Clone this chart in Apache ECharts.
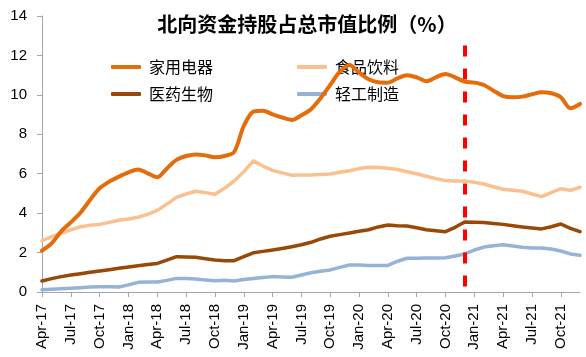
<!DOCTYPE html>
<html>
<head>
<meta charset="utf-8">
<script src="https://cdn.jsdelivr.net/npm/echarts@6/dist/echarts.min.js"></script>
<style>
html,body{margin:0;padding:0;background:#fff;}
#chart{width:586px;height:357px;}
</style>
</head>
<body>
<div id="chart"></div>
<script>
var categories = [
 'Apr-17','May-17','Jun-17','Jul-17','Aug-17','Sep-17','Oct-17','Nov-17','Dec-17',
 'Jan-18','Feb-18','Mar-18','Apr-18','May-18','Jun-18','Jul-18','Aug-18','Sep-18','Oct-18','Nov-18','Dec-18',
 'Jan-19','Feb-19','Mar-19','Apr-19','May-19','Jun-19','Jul-19','Aug-19','Sep-19','Oct-19','Nov-19','Dec-19',
 'Jan-20','Feb-20','Mar-20','Apr-20','May-20','Jun-20','Jul-20','Aug-20','Sep-20','Oct-20','Nov-20','Dec-20',
 'Jan-21','Feb-21','Mar-21','Apr-21','May-21','Jun-21','Jul-21','Aug-21','Sep-21','Oct-21','Nov-21','Dec-21'
];
var seriesNames = ['家用电器','食品饮料','医药生物','轻工制造'];
var homeAppliances = [
 2.1,2.47,3.08,3.53,4.02,4.67,5.26,5.6,5.85,
 6.07,6.22,6.02,5.82,6.27,6.70,6.90,6.98,6.93,6.83,6.90,7.1,
 8.42,9.15,9.2,9.01,8.85,8.73,8.96,9.27,9.83,10.5,11.18,11.52,
 11.13,10.79,10.64,10.62,10.84,11.0,10.89,10.69,10.89,11.06,10.89,10.67,
 10.62,10.5,10.21,9.94,9.88,9.91,10.03,10.13,10.08,9.88,9.32,9.54
];
var foodBeverage = [
 2.6,2.81,2.98,3.15,3.31,3.38,3.43,3.53,3.64,
 3.70,3.79,3.94,4.14,4.46,4.8,4.97,5.11,5.04,4.96,5.26,5.63,
 6.1,6.65,6.39,6.17,6.04,5.92,5.94,5.94,5.96,5.99,6.07,6.15,
 6.26,6.33,6.31,6.28,6.21,6.1,6.0,5.87,5.75,5.65,5.63,5.63,
 5.56,5.48,5.34,5.21,5.16,5.11,4.97,4.84,5.04,5.24,5.16,5.31
];
var pharma = [
 0.56,0.68,0.78,0.86,0.93,1.0,1.07,1.13,1.2,
 1.27,1.33,1.39,1.45,1.62,1.79,1.78,1.76,1.69,1.62,1.59,1.59,
 1.79,1.99,2.06,2.13,2.21,2.3,2.4,2.52,2.69,2.83,2.91,2.99,
 3.08,3.16,3.3,3.4,3.36,3.35,3.26,3.16,3.11,3.06,3.28,3.55,
 3.54,3.52,3.48,3.43,3.36,3.3,3.25,3.2,3.31,3.45,3.23,3.06
];
var lightIndustry = [
 0.12,0.14,0.17,0.19,0.22,0.25,0.27,0.27,0.25,
 0.36,0.49,0.51,0.51,0.59,0.69,0.68,0.66,0.61,0.57,0.59,0.56,
 0.63,0.69,0.73,0.78,0.76,0.75,0.86,0.98,1.05,1.12,1.25,1.37,
 1.37,1.35,1.35,1.35,1.56,1.71,1.71,1.72,1.72,1.74,1.83,1.93,
 2.13,2.28,2.35,2.4,2.33,2.27,2.23,2.23,2.18,2.08,1.93,1.86
];
var yTicks = {min: 0, max: 14, interval: 2};
var markerCategory = 'Dec-20';
var markerTop = 12.5;

var chart = echarts.init(document.getElementById('chart'), null, {renderer: 'canvas'});
var latin = "'Liberation Sans', Arial, sans-serif";
var cjk = "'Noto Sans CJK SC', 'Liberation Sans', sans-serif";
var colors = ['#E46C0A', '#FAC090', '#984807', '#95B3D7'];

function lineSeries(name, data, color, width, smooth, z) {
  return {
    name: name, type: 'line', data: data, symbol: 'none',
    smooth: smooth, z: z,
    lineStyle: {color: color, width: width, cap: 'round', join: 'round'},
    itemStyle: {color: color}
  };
}

var legendCommon = {
  left: 106, itemWidth: 30, itemHeight: 4, itemGap: 84, icon: 'roundRect',
  textStyle: {fontFamily: cjk, fontSize: 16, color: '#000', padding: [0, 0, 0, 3]}
};

var option = {
  backgroundColor: '#fff',
  animation: false,
  title: {
    text: '北向资金持股占总市值比例（%）',
    left: 302, textAlign: 'center', top: 9,
    textStyle: {fontFamily: cjk, fontSize: 20, fontWeight: 'bold', color: '#000'}
  },
  legend: [
    Object.assign({}, legendCommon, {top: 54, data: [seriesNames[0], seriesNames[1]]}),
    Object.assign({}, legendCommon, {top: 81, data: [seriesNames[2], seriesNames[3]]})
  ],
  grid: {left: 42, right: 6, top: 16, bottom: 65, containLabel: false, outerBoundsMode: 'none'},
  xAxis: {
    type: 'category', data: categories, boundaryGap: false,
    axisLine: {lineStyle: {color: '#A6A6A6', width: 1}},
    axisTick: {show: true, interval: 2, length: 5, inside: false, lineStyle: {color: '#A6A6A6'}},
    axisLabel: {interval: 2, rotate: 90, margin: 12, fontFamily: latin, fontSize: 15, color: '#000'},
    splitLine: {show: false}
  },
  yAxis: {
    type: 'value', min: yTicks.min, max: yTicks.max, interval: yTicks.interval,
    axisLine: {show: true, lineStyle: {color: '#A6A6A6', width: 1}},
    axisTick: {show: true, length: 5, lineStyle: {color: '#A6A6A6'}},
    axisLabel: {margin: 15, fontFamily: latin, fontSize: 15, color: '#000'},
    splitLine: {show: false}
  },
  series: [
    Object.assign(lineSeries(seriesNames[0], homeAppliances, colors[0], 4, 0.3, 5), {
      markLine: {
        silent: true, symbol: ['none', 'none'], label: {show: false},
        lineStyle: {color: '#FF0000', width: 4, type: [11, 12]},
        data: [[{coord: [markerCategory, markerTop]}, {coord: [markerCategory, 0]}]]
      }
    }),
    lineSeries(seriesNames[1], foodBeverage, colors[1], 3.5, false, 3),
    lineSeries(seriesNames[2], pharma, colors[2], 3.5, false, 3),
    lineSeries(seriesNames[3], lightIndustry, colors[3], 3.5, false, 2)
  ]
};
chart.setOption(option);
</script>
</body>
</html>
